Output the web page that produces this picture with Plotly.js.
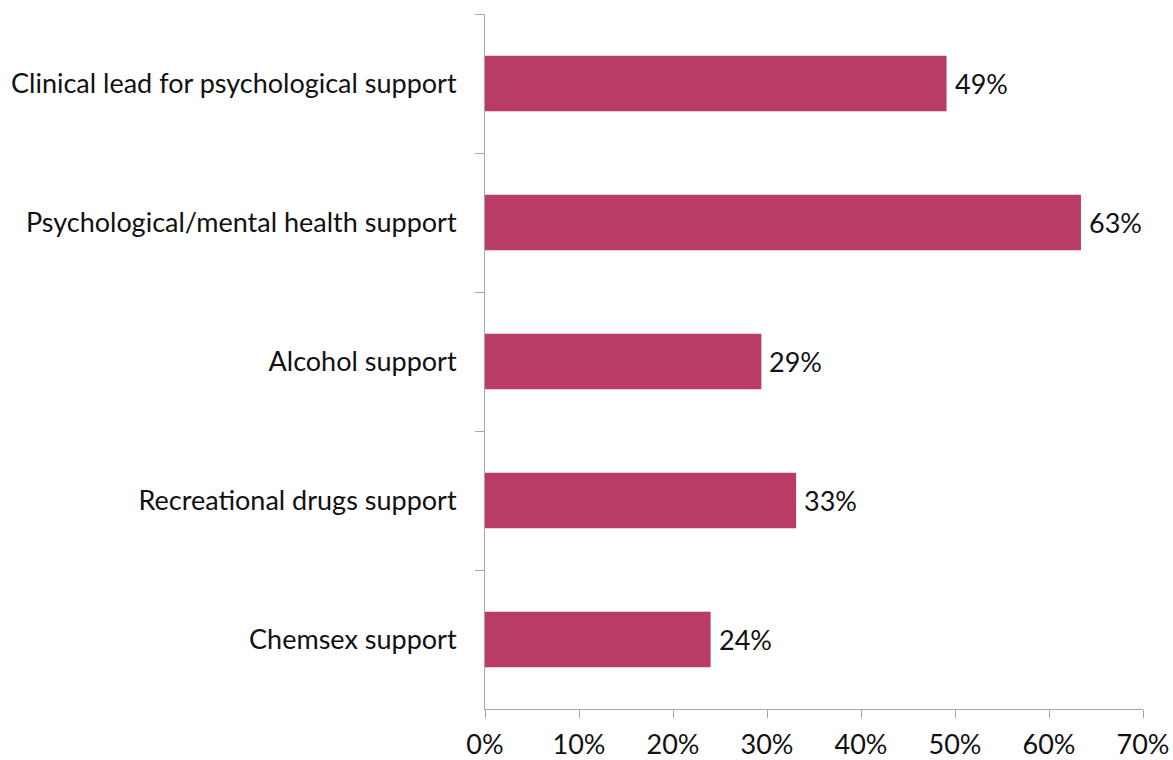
<!DOCTYPE html>
<html>
<head>
<meta charset="utf-8">
<script src="https://cdn.plot.ly/plotly-3.0.1.min.js"></script>
<style>html,body{margin:0;padding:0;background:#fff;}#chart{width:1173px;height:760px;}</style>
</head>
<body>
<div id="chart"></div>
<script>
const categories = [
  "Clinical lead for psychological support",
  "Psychological/mental health support",
  "Alcohol support",
  "Recreational drugs support",
  "Chemsex support"
];
const values = [49.1, 63.4, 29.4, 33.1, 24.0];
const labels = ["49%", "63%", "29%", "33%", "24%"];
const tickVals = [0, 10, 20, 30, 40, 50, 60, 70];
const tickText = ["0%", "10%", "20%", "30%", "40%", "50%", "60%", "70%"];

const font = "Lato, 'Open Sans', sans-serif";
const fsize = 27;

const trace = {
  type: "bar",
  orientation: "h",
  x: values,
  y: categories,
  marker: {color: "#B83C65"},
  hoverinfo: "none"
};

const annotations = categories.map((c, i) => ({
  x: values[i], y: c, xref: "x", yref: "y",
  text: labels[i], showarrow: false, xanchor: "left", xshift: 6,
  font: {family: font, size: fsize, color: "#111"}
}));

const layout = {
  width: 1173, height: 760,
  margin: {l: 485, r: 30, t: 14, b: 51},
  paper_bgcolor: "#fff", plot_bgcolor: "#fff",
  bargap: 0.6,
  showlegend: false,
  font: {family: font, size: fsize, color: "#111"},
  xaxis: {
    range: [0, 70], tickvals: tickVals, ticktext: tickText,
    showgrid: false, zeroline: false,
    showline: true, linecolor: "#A6A6A6", linewidth: 1,
    ticks: "outside", ticklen: 8, tickcolor: "#A6A6A6",
    ticklabelstandoff: 4,
    tickfont: {family: font, size: fsize, color: "#111"}
  },
  yaxis: {
    type: "category", autorange: "reversed",
    showgrid: false, zeroline: false,
    showline: true, linecolor: "#A6A6A6", linewidth: 1,
    ticks: "outside", tickson: "boundaries", ticklen: 9, tickcolor: "#A6A6A6",
    ticklabelstandoff: 22,
    tickfont: {family: font, size: fsize, color: "#111"}
  },
  annotations: annotations
};

Plotly.newPlot("chart", [trace], layout, {displayModeBar: false, staticPlot: true});
</script>
</body>
</html>
